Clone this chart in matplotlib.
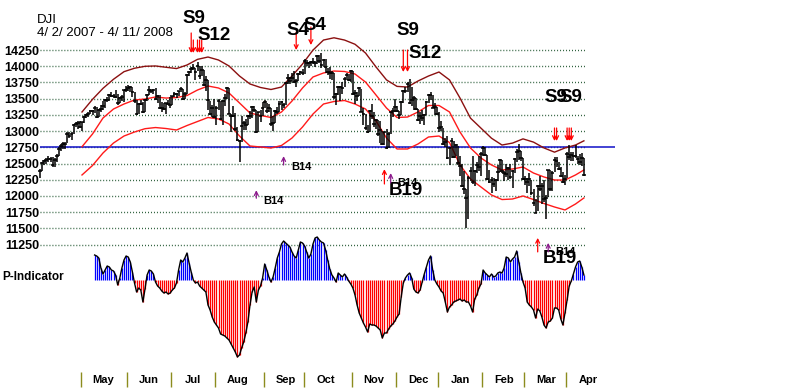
import matplotlib
matplotlib.use("Agg")
import matplotlib.pyplot as plt
import numpy as np

# ---------------- data ----------------
title = "DJI"
date_range = "4/ 2/ 2007 - 4/ 11/ 2008"

closes = [
    12383,12511,12531,12560,12570,12573,12484,12553,12612,12720,12773,12803,12808,12961,12919,12953,13089,13105,13121,13063,
    13136,13212,13241,13265,13312,13309,13362,13215,13326,13347,13383,13487,13477,13556,13542,13539,13525,13441,13507,13521,13633,13628,
    13668,13676,13596,13467,13266,13424,13424,13295,13483,13553,13640,13613,13636,13490,13546,13361,13352,13338,13427,13422,13409,
    13535,13577,13566,13612,13650,13502,13577,13861,13908,13951,13972,13918,14000,13851,13943,13716,13786,13473,13265,13359,13212,
    13362,13463,13182,13469,13504,13658,13271,13240,13237,13029,12861,12846,13079,13121,13091,13237,13236,13379,13322,12983,13289,13239,13358,
    13449,13306,13363,13113,13128,13308,13292,13425,13442,13403,13739,13816,13767,13821,13759,13779,13878,13913,13896,
    14088,14047,14044,14066,14066,14044,14165,14078,14015,14093,13985,13912,13893,13889,13522,13567,13677,13675,13671,13807,13870,13792,13930,
    13567,13595,13544,13661,13300,13266,13043,12988,13307,13231,13110,13177,12958,13010,12799,12981,12743,12958,13289,13312,13372,
    13315,13249,13445,13620,13625,13727,13433,13474,13518,13339,13167,13232,13207,13245,13450,13550,13552,13359,13366,13265,
    13044,13057,12800,12828,12590,12736,12853,12607,12778,12501,12467,12159,12099,11971,12271,12378,12207,12384,12480,12443,12650,
    12743,12636,12266,12213,12248,12183,12240,12374,12552,12377,12348,12338,12428,12284,12382,12571,12685,12694,12582,12266,
    12258,12213,12254,12040,11894,11740,12157,12111,12146,11951,11972,12392,12099,12361,12548,12533,12422,12303,12216,12263,
    12654,12605,12626,12609,12612,12577,12527,12581,12325]

highs = [
    12420,12530,12560,12580,12620,12600,12600,12580,12640,12750,12800,12830,12830,12980,12990,12990,13110,13140,13150,13160,
    13140,13230,13270,13290,13330,13320,13380,13370,13340,13400,13460,13500,13520,13570,13600,13580,13630,13580,13530,13560,13640,13690,
    13710,13700,13680,13600,13480,13440,13480,13450,13500,13570,13700,13650,13650,13660,13560,13550,13450,13430,13440,13480,13530,
    13540,13600,13590,13620,13680,13650,13600,13880,13930,13990,14030,13970,14070,14000,14010,13950,13850,13790,13470,13400,13500,
    13390,13490,13470,13480,13580,13680,13660,13270,13380,13280,13070,12870,13230,13150,13180,13250,13310,13390,13380,13320,13300,13320,13450,
    13480,13440,13420,13360,13230,13320,13370,13460,13460,13440,13760,13880,13830,13890,13920,13800,13900,13930,13960,
    14110,14100,14070,14080,14130,14080,14170,14180,14200,14110,14110,13980,13990,13920,13890,13590,13690,13700,13760,13840,13900,13880,13950,
    13920,13640,13610,13680,13650,13350,13260,13100,13320,13420,13290,13190,13170,13150,13000,12990,13030,12980,13300,13350,13490,
    13390,13310,13460,13630,13680,13750,13800,13680,13540,13510,13340,13300,13320,13260,13460,13570,13600,13550,13440,13370,
    13290,13160,13050,12900,12930,12750,12900,12840,12800,12770,12620,12500,12390,12100,12300,12450,12620,12400,12520,12610,12680,
    12770,12750,12630,12400,12290,12280,12260,12470,12570,12560,12380,12500,12450,12500,12400,12590,12720,12800,12690,12580,
    12310,12270,12360,12250,12100,11950,12170,12300,12200,12250,12020,12400,12400,12380,12600,12600,12530,12450,12370,12320,
    12680,12780,12680,12680,12790,12620,12650,12660,12580]

lows = [
    12280,12380,12480,12500,12530,12520,12450,12440,12520,12610,12700,12730,12720,12810,12890,12860,12950,13060,13040,13050,
    13000,13130,13200,13220,13260,13250,13280,13200,13210,13300,13330,13360,13450,13470,13520,13510,13510,13400,13440,13470,13450,13600,
    13620,13600,13520,13440,13250,13260,13400,13280,13300,13470,13550,13590,13570,13480,13440,13340,13300,13320,13260,13400,13350,
    13410,13530,13510,13540,13610,13480,13490,13570,13850,13890,13940,13790,13920,13810,13850,13700,13620,13330,13250,13220,13200,
    13100,13320,13170,13100,13380,13500,13260,12990,13210,13000,12840,12518,12830,13010,13020,13090,13190,13200,13300,12970,12980,13140,13240,
    13350,13280,13300,13080,13000,13130,13260,13290,13320,13360,13400,13730,13730,13770,13740,13680,13780,13870,13860,
    13880,14010,13970,14010,14040,13990,14030,14050,13970,13990,13900,13860,13800,13790,13500,13400,13560,13460,13580,13680,13790,13770,13750,
    13550,13420,13460,13540,13290,13090,13020,12970,12990,13190,13060,13030,12930,12820,12780,12790,12720,12740,12960,13210,13290,
    13290,13190,13250,13430,13590,13600,13420,13390,13330,13320,13150,13110,13150,13100,13250,13440,13480,13350,13250,13250,
    12980,13000,12780,12750,12570,12470,12580,12580,12610,12470,12300,12140,12030,11508,11640,12230,12180,12150,12360,12390,12300,
    12620,12620,12250,12200,12040,12130,12080,12230,12370,12350,12230,12290,12240,12260,12120,12360,12520,12560,12540,12250,
    12170,12050,12160,12020,11850,11730,11760,12080,11880,11900,11650,11980,12080,12080,12370,12450,12400,12290,12200,12170,
    12270,12560,12540,12540,12590,12500,12480,12460,12300]

# band lines (read every 5 trading days)
band_days = [20,25,30,35,40,45,50,55,60,65,70,75,80,85,90,95,100,105,110,115,120,125,130,135,140,
             145,150,155,160,165,170,175,180,185,190,195,200,205,210,215,220,225,230,235,240,245,250,255,259]
band_upper = [13295,13490,13660,13800,13917,13970,14000,14005,13985,13965,14020,14107,14143,14097,14005,13850,13727,
              13673,13642,13680,13850,14035,14250,14405,14440,14405,14340,14205,13990,13790,13690,13680,13773,13850,
              13912,13790,13510,13200,13045,12890,12785,12815,12880,12830,12740,12675,12740,12785,12850]
band_middle = [12759,12955,13202,13341,13418,13480,13495,13526,13510,13518,13549,13634,13696,13665,13588,13434,13279,
               13241,13210,13295,13464,13665,13835,13897,13927,13920,13881,13757,13557,13356,13210,13217,13295,13395,
               13395,13295,12986,12739,12585,12477,12400,12415,12446,12353,12292,12245,12245,12323,12400]
band_lower = [12323,12469,12662,12816,12924,12986,13037,13055,13040,13017,13086,13148,13210,13187,13110,12924,12770,
              12755,12739,12778,12893,13063,13264,13418,13457,13472,13418,13341,13156,12893,12724,12724,12801,12909,
              12924,12824,12477,12261,12137,12014,11944,11952,11999,11944,11883,11829,11783,11875,11968]

reference_level = 12750
price_ticks = [11250,11500,11750,12000,12250,12500,12750,13000,13250,13500,13750,14000,14250]

# P-Indicator (starts at trading day 26)
p_start = 26
p_indicator = [25,24,22,12,6,10,14,13,10,9,
    5,-5,2,12,20,24,23,18,8,-3,
    -12,-8,-10,-22,-9,5,10,9,6,-2,
    -6,-8,-11,-13,-12,-14,-13,-10,-8,-3,
    10,20,18,22,27,17,8,0,-3,-2,
    -6,-8,-10,-12,-25,-30,-37,-42,-45,-48,
    -54,-55,-56,-58,-60,-64,-68,-72,-77,-75,
    -68,-62,-53,-42,-25,-12,-7,-22,-10,-6,
    2,16,10,3,-2,3,12,22,28,36,
    39,37,35,33,28,24,22,30,38,37,
    34,28,22,26,36,42,43,40,38,37,
    30,20,11,5,2,-2,7,5,3,6,
    3,-1,-4,-8,-15,-25,-33,-38,-43,-47,
    -52,-44,-45,-45,-46,-48,-50,-58,-53,-53,
    -49,-46,-44,-41,-37,-34,-17,-3,2,5,
    7,2,-9,-12,-13,-10,-2,6,13,20,
    24,10,0,-4,-7,-11,-13,-22,-32,-27,
    -25,-22,-21,-20,-19,-21,-20,-22,-22,-26,
    -32,-19,-15,-8,-4,10,7,5,3,6,
    3,4,7,8,7,12,23,22,18,21,
    23,29,18,7,-2,-8,-22,-25,-27,-30,
    -38,-29,-31,-37,-45,-48,-42,-41,-38,-28,
    -28,-30,-39,-45,-33,-20,-6,-1,6,13,
    18,19,13,5]

months = ["May","Jun","Jul","Aug","Sep","Oct","Nov","Dec","Jan","Feb","Mar","Apr"]
month_starts = [20,42,63,84,107,126,149,170,190,211,231,251]

# signals: (label, arrow days)
sell_signals = [("S9", [72,73]), ("S12", [75,76,77]), ("S4", [122]), ("S4", [129]),
                ("S9", [173]), ("S12", [175]), ("S9", [245,246]), ("S9", [251,252,253])]

# ---------------- layout / style ----------------
FONT = ["Liberation Sans", "DejaVu Sans"]
plt.rcParams['font.family'] = FONT

fig = plt.figure(figsize=(8, 3.92), dpi=100)
fig.patch.set_facecolor("white")
left_px = 40
ax = fig.add_axes([left_px/800, 0, 1 - left_px/800, 1])
px_per_day = 2.1
xmax = (800 - left_px) / px_per_day
ax.set_xlim(0, xmax)
ax.set_ylim(8974, 15023)
for s in ax.spines.values():
    s.set_visible(False)
ax.set_xticks([])
ax.set_yticks(price_ticks)
ax.set_yticklabels([str(v) for v in price_ticks], fontsize=9, fontweight='bold')
ax.tick_params(axis='y', length=0, pad=0.6)
ax.patch.set_alpha(0)

days = np.arange(len(closes))
last = len(closes) - 1

# grid
ax.hlines(price_ticks, -0.1, last + 0.6, colors="#2b5e3a", linestyles=(0, (0.7, 1.45)), lw=1.0, zorder=1)
# blue reference line
ax.hlines([reference_level], 0, 273.8, colors="#1010c8", lw=1.1, zorder=2)

# bands
ax.plot(band_days, band_upper, color="#8b1010", lw=1.0, zorder=3)
ax.plot(band_days, band_middle, color="#ff1a1a", lw=1.0, zorder=3)
ax.plot(band_days, band_lower, color="#ff1a1a", lw=1.0, zorder=3)

# price bars
ax.vlines(days, lows, highs, colors="black", lw=1.1, zorder=4, clip_on=False)
ax.hlines(closes, days - 0.9, days + 0.9, colors="black", lw=1.1, zorder=4, clip_on=False)

# sell arrows & labels
def down_arrow(d, tail, tip):
    ax.annotate("", xy=(d, tip), xytext=(d, tail),
                arrowprops=dict(arrowstyle="->", color="red", lw=0.9,
                                shrinkA=0, shrinkB=0, mutation_scale=7), zorder=6)

def up_arrow(d, tail, tip, color):
    ax.annotate("", xy=(d, tip), xytext=(d, tail),
                arrowprops=dict(arrowstyle="->", color=color, lw=0.9,
                                shrinkA=0, shrinkB=0, mutation_scale=7), zorder=6)

arrow_span = {  # (tail, tip) prices per arrow day
    72: (14514, 14205), 73: (14406, 14205), 75: (14406, 14205), 76: (14406, 14205), 77: (14406, 14205),
    122: (14529, 14251), 129: (14606, 14328),
    173: (14251, 13912), 175: (14251, 13912),
    245: (13048, 12847), 246: (13048, 12847), 251: (13048, 12847), 252: (13048, 12847), 253: (13048, 12847),
}
label_pos = [(73.3, 14745), (82.9, 14480), (122.9, 14560), (131.0, 14637),
             (175.2, 14560), (183.3, 14205), (245.7, 13511), (252.9, 13511)]
for (lab, ds), (lx, ly) in zip(sell_signals, label_pos):
    for d in ds:
        down_arrow(d, *arrow_span[d])
    ax.text(lx, ly, lab, fontsize=13.5, fontweight='bold', ha='center', va='center', zorder=7)

# buy signals
purple = "#8b1a8b"
up_arrow(116, 12477, 12614, purple)
ax.text(119.5, 12444, "B14", fontsize=8, fontweight='bold', ha='left', va='center')
up_arrow(103, 11964, 12088, purple)
ax.text(106.2, 11921, "B14", fontsize=8, fontweight='bold', ha='left', va='center')
up_arrow(164, 12184, 12413, "red")
up_arrow(167, 12199, 12352, purple)
ax.text(170, 12199, "B14", fontsize=8, fontweight='bold', ha='left', va='center')
ax.text(174.3, 12091, "B19", fontsize=13.5, fontweight='bold', ha='center', va='center')
up_arrow(237, 11136, 11352, "red")
up_arrow(242, 11136, 11275, purple)
ax.text(245.2, 11136, "B14", fontsize=8, fontweight='bold', ha='left', va='center')
ax.text(247.6, 11028, "B19", fontsize=13.5, fontweight='bold', ha='center', va='center')

# ---------------- P-Indicator panel ----------------
ax2 = fig.add_axes([left_px/800, 0, 1 - left_px/800, 1])
ax2.set_xlim(0, xmax)
ax2.set_ylim(-112, 280)
ax2.axis('off')
ax2.patch.set_alpha(0)
pdays = np.arange(p_start, p_start + len(p_indicator))
pv = np.array(p_indicator)
cols = np.where(pv >= 0, "#0000ff", "#ff0000")
ax2.vlines(pdays, 0, pv, colors=cols, lw=0.9)
ax2.plot(pdays, pv, color="black", lw=1.0)

# month axis
ax2.vlines(np.array(month_starts) - 0.5, -107, -92, colors="#8c8c1e", lw=1.0)
for m, s in zip(months, month_starts):
    ax2.text(s + 10, -100, m, fontsize=8, fontweight='bold', ha='center', va='center')

# titles
fig.text(37/800, 1 - 20/392, title, fontsize=9.5, ha='left', va='center')
fig.text(37/800, 1 - 33/392, date_range, fontsize=9.5, ha='left', va='center')
fig.text(2/800, 1 - 277/392, "P-Indicator", fontsize=8.5, fontweight='bold', ha='left', va='center')

fig.savefig("out.png", dpi=100, facecolor="white")
